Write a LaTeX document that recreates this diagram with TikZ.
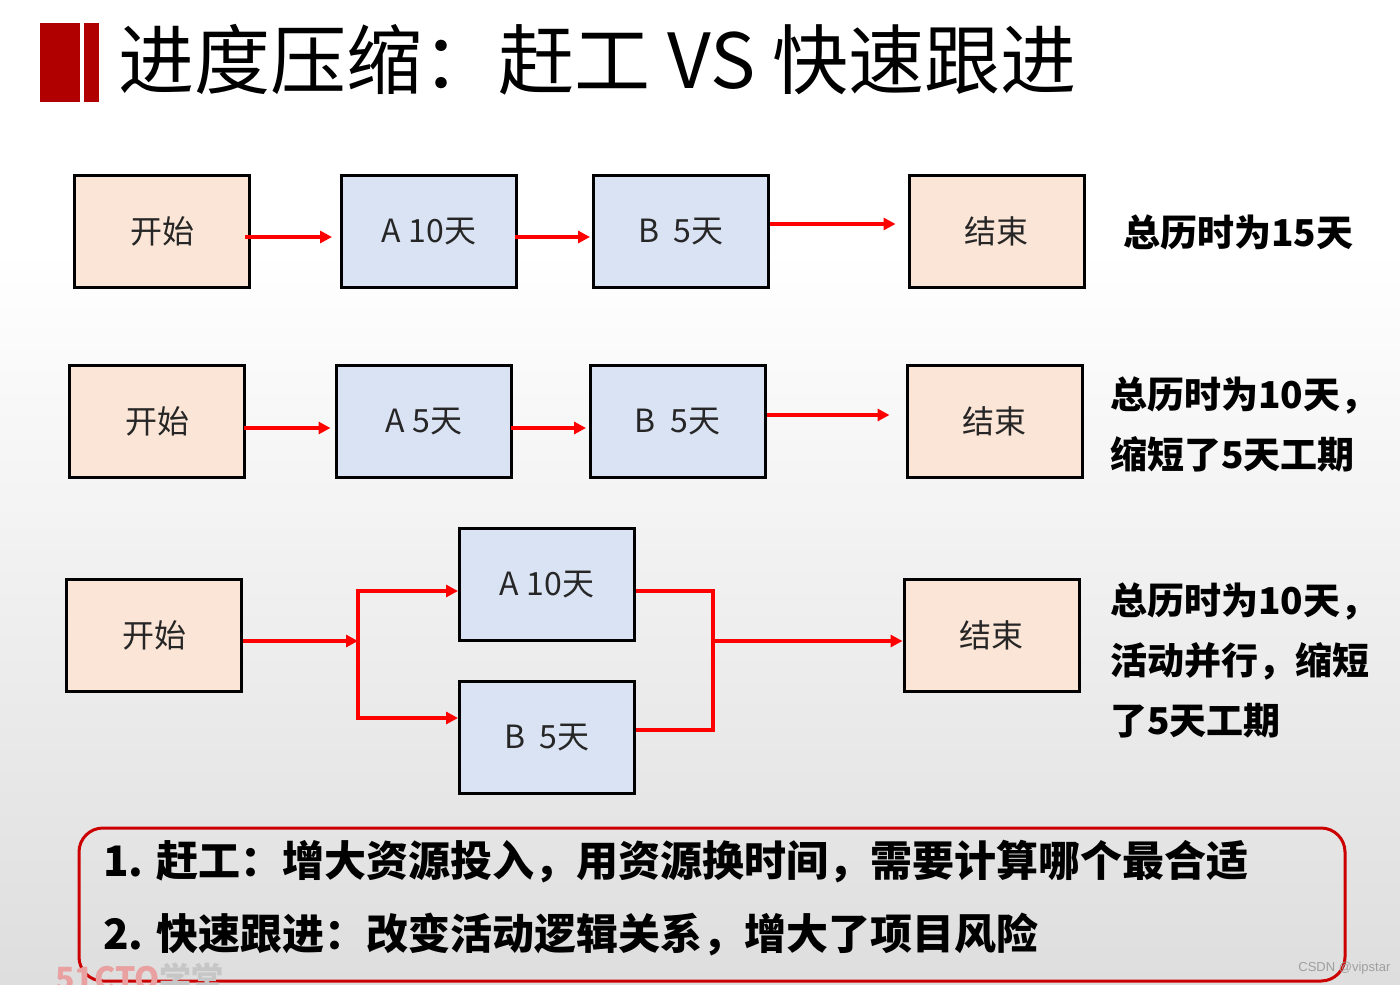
\documentclass[tikz,border=0pt]{standalone}
\usepackage{fontspec}
\setmainfont{Noto Sans CJK SC}
\newfontfamily\wmfont{Liberation Sans}
\usepackage{xcolor}
\usepackage{tikz}
\usetikzlibrary{arrows.meta,positioning,calc}
\definecolor{peach}{RGB}{251,229,214}
\definecolor{paleblue}{RGB}{218,227,243}
\definecolor{barred}{RGB}{176,0,0}
\definecolor{linered}{RGB}{255,0,0}
\definecolor{framered}{RGB}{204,0,0}
\definecolor{wmred}{RGB}{232,160,160}

\begin{document}
\begin{tikzpicture}[
  x=0.5pt, y=-0.5pt,
  box/.style={draw=black, line width=1.5pt, minimum width=87.5pt, minimum height=56pt,
              inner sep=0pt, font=\fontsize{16}{19}\selectfont, text=black!85},
  ends/.style={box, fill=peach},
  act/.style={box, fill=paleblue},
  arr/.style={-{Triangle[length=6pt,width=6pt]}, draw=linered, line width=1.6pt},
  link/.style={draw=linered, line width=1.6pt},
  note/.style={anchor=west, align=left, inner sep=0pt, font=\fontsize{18.5}{30}\selectfont\bfseries},
  tip/.style={anchor=west, inner sep=0pt, font=\fontsize{21}{26}\selectfont\bfseries},
  title/.style={anchor=west, inner sep=0pt, font=\fontsize{38}{40}\selectfont},
]
  \useasboundingbox (0,0) rectangle (1400,984);
  \fill[white] (0,0) rectangle (1400,984);
  \shade[top color=white, bottom color=gray!26] (0,250) rectangle (1400,984);

  % title
  \fill[barred] (40,23) rectangle (80,102);
  \fill[barred] (84,23) rectangle (99,102);
  \node[title] (ttl) at (118,60) {进度压缩：赶工 VS 快速跟进};

  % row 1: serial
  \node[ends] (s1) at (162,231.5)   {开始};
  \node[act]  (a1) at (429,231.5)   {A 10天};
  \node[act]  (b1) at (681,231.5)   {B\ \ 5天};
  \node[ends] (e1) at (996.5,231.5) {结束};
  \node[note] (n1) at (1123,232) {总历时为15天};
  \draw[arr] ([xshift=-3pt,yshift=-2.75pt]s1.east) -- ([xshift=-4pt,yshift=-2.75pt]a1.west);
  \draw[arr] ([xshift=-1.5pt,yshift=-2.75pt]a1.east) -- ([xshift=-1pt,yshift=-2.75pt]b1.west);
  \draw[arr] ([yshift=3.75pt]b1.east) -- ([xshift=-6pt,yshift=3.75pt]e1.west);

  % row 2: crashing
  \node[ends] (s2) at (157,421.5)   {开始};
  \node[act]  (a2) at (424,421.5)   {A 5天};
  \node[act]  (b2) at (677.5,421.5) {B\ \ 5天};
  \node[ends] (e2) at (994.5,421.5) {结束};
  \node[note] (n2) at (1110,424) {总历时为10天，\\缩短了5天工期};
  \draw[arr] ([xshift=-1pt,yshift=-3.25pt]s2.east) -- ([xshift=-2.25pt,yshift=-3.25pt]a2.west);
  \draw[arr] ([xshift=-1pt,yshift=-3.25pt]a2.east) -- ([xshift=-1.25pt,yshift=-3.25pt]b2.west);
  \draw[arr] ([yshift=3.25pt]b2.east) -- ([xshift=-8pt,yshift=3.25pt]e2.west);

  % row 3: fast tracking
  \node[ends] (s3) at (154,635.5)   {开始};
  \node[act]  (a3) at (547,584.5)   {A 10天};
  \node[act]  (b3) at (547,737.5)   {B\ \ 5天};
  \node[ends] (e3) at (991.5,635.5) {结束};
  \node[note] (n3) at (1110,660) {总历时为10天，\\活动并行，缩短\\了5天工期};
  \coordinate (j1) at (358,641);
  \coordinate (j2) at (713,641);
  \draw[arr] ([yshift=-2.75pt]s3.east) -- (j1);
  \draw[arr] (j1) |- ([yshift=-3.25pt]a3.west);
  \draw[arr] (j1) |- ([yshift=9.75pt]b3.west);
  \draw[link] ([yshift=-3.25pt]a3.east) -| (j2);
  \draw[link] ([yshift=3.75pt]b3.east) -| (j2);
  \draw[arr] (j2) -- ([yshift=-2.75pt]e3.west);

  % summary
  \draw[framered, line width=1.5pt, rounded corners=12pt] (79,828) rectangle (1345,981);
  \node[tip] (t1) at (103,862) {1. 赶工：增大资源投入，用资源换时间，需要计算哪个最合适};
  \node[tip] (t2) at (103,934) {2. 快速跟进：改变活动逻辑关系，增大了项目风险};

  % watermarks
  \node[anchor=base west, inner sep=0pt, font=\fontsize{16}{16}\selectfont\bfseries] (wm) at (55,990)
    {\textcolor{wmred}{51CTO}\textcolor{gray!45}{学堂}};
  \node[anchor=west, inner sep=0pt, font=\wmfont\fontsize{6.5}{8}\selectfont, text=gray!75] (csdn) at (1298,968) {CSDN @vipstar};
\end{tikzpicture}
\end{document}
